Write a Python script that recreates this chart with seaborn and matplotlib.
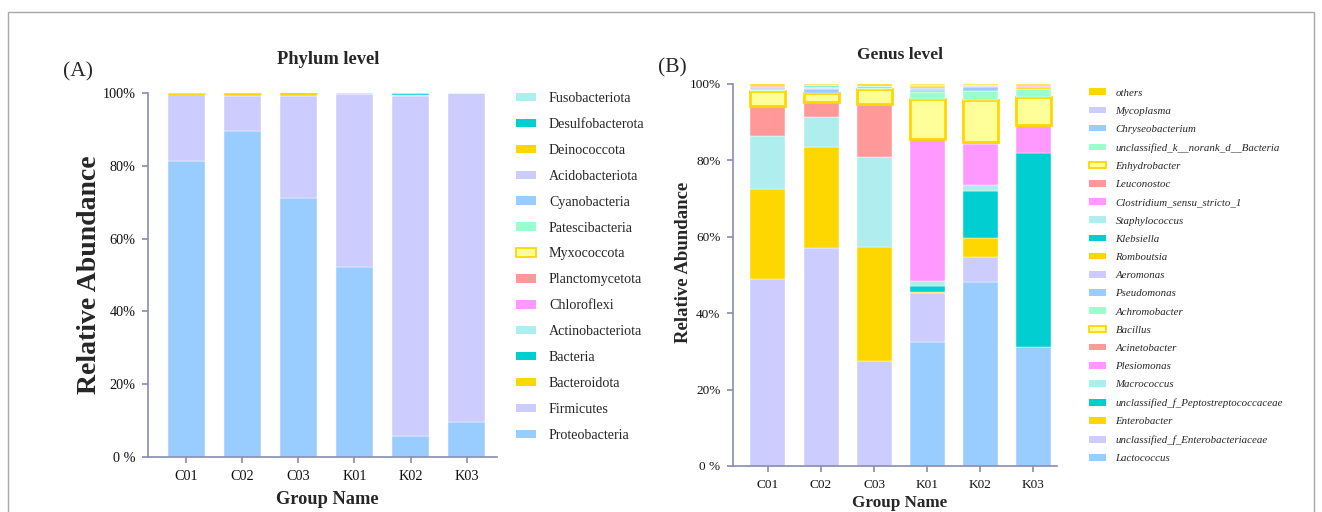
import numpy as np
import pandas as pd
import matplotlib
matplotlib.use("Agg")
import matplotlib.pyplot as plt
from matplotlib.patches import Patch, Rectangle
import seaborn as sns

groups = ["C01", "C02", "C03", "K01", "K02", "K03"]

# Phylum composition (%), listed from the bottom of each stack upwards
phyla = ["Proteobacteria", "Firmicutes", "Bacteroidota", "Bacteria", "Actinobacteriota",
         "Chloroflexi", "Planctomycetota", "Myxococcota", "Patescibacteria", "Cyanobacteria",
         "Acidobacteriota", "Deinococcota", "Desulfobacterota", "Fusobacteriota"]
phylum_C01 = [81.4, 18.2, 0.30, 0.02, 0.03, 0.01, 0.01, 0.01, 0.01, 0.01, 0.00, 0.00, 0.00, 0.00]
phylum_C02 = [89.6, 9.6, 0.70, 0.03, 0.03, 0.01, 0.01, 0.01, 0.01, 0.00, 0.00, 0.00, 0.00, 0.00]
phylum_C03 = [71.1, 28.2, 0.60, 0.02, 0.05, 0.01, 0.01, 0.01, 0.00, 0.00, 0.00, 0.00, 0.00, 0.00]
phylum_K01 = [52.3, 47.4, 0.05, 0.12, 0.10, 0.01, 0.01, 0.00, 0.01, 0.00, 0.00, 0.00, 0.00, 0.00]
phylum_K02 = [5.9, 93.4, 0.02, 0.60, 0.05, 0.01, 0.01, 0.00, 0.01, 0.00, 0.00, 0.00, 0.00, 0.00]
phylum_K03 = [9.5, 90.4, 0.02, 0.03, 0.03, 0.01, 0.01, 0.00, 0.00, 0.00, 0.00, 0.00, 0.00, 0.00]

# Genus composition (%), listed from the bottom of each stack upwards
genera = ["Lactococcus", "unclassified_f_Enterobacteriaceae", "Enterobacter",
          "unclassified_f_Peptostreptococcaceae", "Macrococcus", "Plesiomonas", "Acinetobacter",
          "Bacillus", "Achromobacter", "Pseudomonas", "Aeromonas", "Romboutsia", "Klebsiella",
          "Staphylococcus", "Clostridium_sensu_stricto_1", "Leuconostoc", "Enhydrobacter",
          "unclassified_k__norank_d__Bacteria", "Chryseobacterium", "Mycoplasma", "others"]
genus_C01 = [0.0, 49.0, 23.5, 0.0, 13.9, 0.0, 7.8, 4.0, 0.1, 0.5, 0.4, 0.0, 0.0, 0.0, 0.0, 0.4, 0.0, 0.0, 0.0, 0.0, 0.4]
genus_C02 = [0.0, 57.0, 26.5, 0.0, 7.9, 0.0, 4.0, 2.2, 0.0, 1.2, 0.1, 0.3, 0.3, 0.2, 0.0, 0.0, 0.0, 0.0, 0.0, 0.0, 0.3]
genus_C03 = [0.0, 27.6, 29.6, 0.0, 23.8, 0.0, 13.7, 3.9, 0.3, 0.0, 0.0, 0.0, 0.4, 0.3, 0.0, 0.0, 0.0, 0.0, 0.0, 0.0, 0.4]
genus_K01 = [32.4, 13.0, 0.1, 1.5, 1.4, 37.2, 0.0, 10.5, 1.9, 0.5, 0.4, 0.5, 0.0, 0.3, 0.0, 0.0, 0.0, 0.0, 0.0, 0.0, 0.3]
genus_K02 = [48.2, 6.4, 5.2, 12.1, 1.7, 10.6, 0.7, 10.9, 2.3, 1.0, 0.3, 0.0, 0.0, 0.3, 0.0, 0.0, 0.0, 0.0, 0.0, 0.0, 0.3]
genus_K03 = [31.2, 0.0, 0.0, 50.8, 0.0, 7.3, 0.0, 7.3, 2.2, 0.0, 0.0, 0.3, 0.0, 0.0, 0.4, 0.2, 0.0, 0.0, 0.0, 0.0, 0.3]

ytick_values = [0, 20, 40, 60, 80, 100]
ytick_labels = ["0 %", "20%", "40%", "60%", "80%", "100%"]

# Nine-colour cycle; the yellow slot is drawn with a gold outline
cycle = ["#99CCFF", "#CCCCFF", "#FFD700", "#00CED1", "#AFEEEE",
         "#FF99FF", "#FF9999", "#FFFF99", "#99FFCC"]
OUTLINED = 7
GOLD = "#FFD700"
AXIS_COLOR = "#8A8AB4"

sns.set_theme(style="ticks")
plt.rcParams["font.family"] = ["Liberation Serif", "DejaVu Serif"]
plt.rcParams["axes.unicode_minus"] = False


def long_table(names, columns):
    rows = []
    for g, vals in zip(groups, columns):
        for n, v in zip(names, vals):
            rows.append({"group": g, "taxon": n, "value": v})
    return pd.DataFrame(rows)


def stacked_bars(ax, df, names, width):
    bottom = np.zeros(len(groups))
    for i, name in enumerate(names):
        sub = df[df["taxon"] == name].set_index("group").loc[groups].reset_index()
        vals = sub["value"].to_numpy(dtype=float)
        slot = i % len(cycle)
        outlined = slot == OUTLINED
        sns.barplot(data=sub, x="group", y="value", order=groups, bottom=bottom,
                    color=cycle[slot], saturation=1, width=width, errorbar=None,
                    edgecolor=GOLD if outlined else "white",
                    linewidth=2.0 if outlined else 0.3, ax=ax)
        for patch in ax.containers[-1]:
            if patch.get_height() <= 0:
                patch.set_visible(False)
        bottom += vals


def legend_handles(names):
    handles = []
    for i, name in enumerate(names):
        slot = i % len(cycle)
        if slot == OUTLINED:
            handles.append(Patch(facecolor=cycle[slot], edgecolor=GOLD, linewidth=1.3, label=name))
        else:
            handles.append(Patch(facecolor=cycle[slot], edgecolor="none", label=name))
    return handles[::-1]


def style_axes(ax, xlim, tick_size, pad_y):
    ax.set_xlim(*xlim)
    ax.set_ylim(0, 100)
    ax.set_yticks(ytick_values)
    ax.set_yticklabels(ytick_labels)
    ax.set_xlabel("")
    ax.set_ylabel("")
    for side in ("top", "right"):
        ax.spines[side].set_visible(False)
    for side in ("left", "bottom"):
        ax.spines[side].set_color(AXIS_COLOR)
        ax.spines[side].set_linewidth(1.2)
    ax.tick_params(axis="both", color=AXIS_COLOR, width=1.2, length=4,
                   labelsize=tick_size, labelcolor="#111111")
    ax.tick_params(axis="y", pad=pad_y)
    ax.tick_params(axis="x", pad=5)


W, H = 1322, 512
fig = plt.figure(figsize=(W / 100, H / 100), dpi=100)

# Panel A: phylum level
phylum_df = long_table(phyla, [phylum_C01, phylum_C02, phylum_C03, phylum_K01, phylum_K02, phylum_K03])
axA = fig.add_axes([148 / W, 1 - 457 / H, (497 - 148) / W, (457 - 93) / H])
stacked_bars(axA, phylum_df, phyla, 0.66)
style_axes(axA, (-0.68, 5.54), 10.3, 5)

legA = fig.legend(handles=legend_handles(phyla), loc="upper left",
                  bbox_to_anchor=(516 / W, 1 - 92 / H), frameon=False,
                  prop={"size": 10.1}, handlelength=1.45, handleheight=0.55,
                  handletextpad=0.9, labelspacing=0.92, borderpad=0, borderaxespad=0)

# Panel B: genus level
genus_df = long_table(genera, [genus_C01, genus_C02, genus_C03, genus_K01, genus_K02, genus_K03])
axB = fig.add_axes([733 / W, 1 - 466 / H, (1057 - 733) / W, (466 - 84) / H])
stacked_bars(axB, genus_df, genera, 0.66)
style_axes(axB, (-0.66, 5.45), 9.5, 5)

legB = fig.legend(handles=legend_handles(genera), loc="upper left",
                  bbox_to_anchor=(1089 / W, 1 - 88.5 / H), frameon=False,
                  prop={"size": 7.8, "style": "italic"}, handlelength=1.6, handleheight=0.55,
                  handletextpad=0.85, labelspacing=0.84, borderpad=0, borderaxespad=0)

# Titles, panel tags and axis names
fig.text(328 / W, 1 - 60 / H, "Phylum level", ha="center", va="center", fontsize=13.3, fontweight="bold")
fig.text(900 / W, 1 - 55 / H, "Genus level", ha="center", va="center", fontsize=12.5, fontweight="bold")
fig.text(78 / W, 1 - 72 / H, "(A)", ha="center", va="center", fontsize=15.5)
fig.text(672 / W, 1 - 68 / H, "(B)", ha="center", va="center", fontsize=15.5)
fig.text(90 / W, 1 - 275 / H, "Relative Abundance", ha="center", va="center",
         rotation=90, fontsize=20, fontweight="bold")
fig.text(683 / W, 1 - 262 / H, "Relative Abundance", ha="center", va="center",
         rotation=90, fontsize=13.5, fontweight="bold")
fig.text(327 / W, 1 - 500 / H, "Group Name", ha="center", va="center", fontsize=13.2, fontweight="bold")
fig.text(900 / W, 1 - 503 / H, "Group Name", ha="center", va="center", fontsize=12.3, fontweight="bold")

# Outer frame
fig.add_artist(Rectangle((8 / W, -0.05), (1314 - 8) / W, 1 - 12 / H + 0.05,
                         transform=fig.transFigure, fill=False, edgecolor="#A8A8A8", linewidth=1.0))

fig.savefig("out.png", dpi=100)
